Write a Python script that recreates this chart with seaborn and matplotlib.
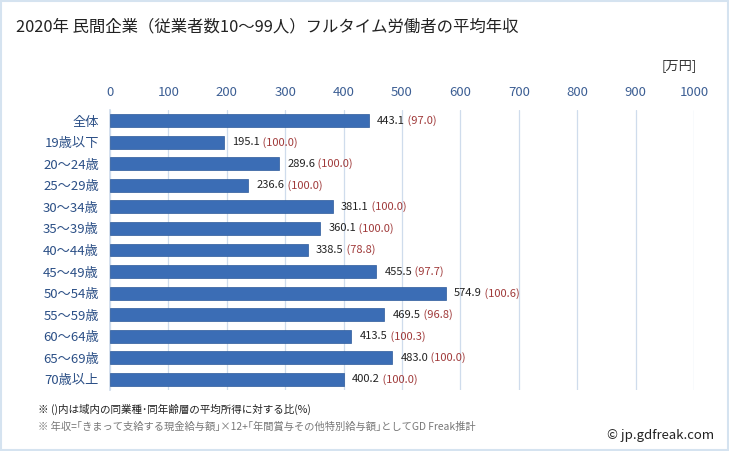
import matplotlib
matplotlib.use("Agg")
import matplotlib.pyplot as plt
import seaborn as sns
import pandas as pd
from matplotlib.patches import Rectangle

categories = ["全体", "19歳以下", "20〜24歳", "25〜29歳", "30〜34歳", "35〜39歳", "40〜44歳",
              "45〜49歳", "50〜54歳", "55〜59歳", "60〜64歳", "65〜69歳", "70歳以上"]
values = [443.1, 195.1, 289.6, 236.6, 381.1, 360.1, 338.5, 455.5, 574.9, 469.5, 413.5, 483.0, 400.2]
ratios = [97.0, 100.0, 100.0, 100.0, 100.0, 100.0, 78.8, 97.7, 100.6, 96.8, 100.3, 100.0, 100.0]
x_ticks = [0, 100, 200, 300, 400, 500, 600, 700, 800, 900, 1000]

sns.set_theme(style="white")
plt.rcParams['font.family'] = ['Noto Sans CJK JP', 'DejaVu Sans']

df = pd.DataFrame({"cat": categories, "val": values})

fig = plt.figure(figsize=(7.29, 4.51), dpi=100)
ax = fig.add_axes([110/729, 1-390/451, 584/729, 280/451])

sns.barplot(data=df, y="cat", x="val", orient="h", color="#3b6db5", width=0.6,
            saturation=1, ax=ax, edgecolor="#2d5a9a", linewidth=0.5, zorder=3)

ax.set_xlim(0, 1000)
ax.set_xticks(x_ticks)
ax.xaxis.tick_top()
ax.tick_params(axis="x", length=0, labelsize=9.5, labelcolor="#3d5f94", pad=8)
ax.tick_params(axis="y", length=0, labelsize=9.5, labelcolor="#2b4f86", pad=8)
ax.set_xlabel("")
ax.set_ylabel("")
ax.grid(axis="x", color="#cfdcec", linewidth=0.9, zorder=0)
ax.grid(axis="y", visible=False)
for s in ax.spines.values():
    s.set_visible(False)
ax.spines["left"].set_visible(True)
ax.spines["left"].set_color("#cfdcec")

for i, (v, r) in enumerate(zip(values, ratios)):
    t = ax.annotate(f"{v:.1f}", xy=(v, i), xytext=(6, 0), textcoords="offset points",
                    va="center", ha="left", fontsize=8, color="#222222")
    ax.annotate(f" ({r:.1f})", xycoords=t, xy=(1, 0.5), va="center", ha="left",
                fontsize=8, color="#a03a3a")

fig.text(16/729, 1-27/451, "2020年 民間企業（従業者数10〜99人）フルタイム労働者の平均年収",
         fontsize=11.8, color="#222222", va="center", ha="left")
fig.text(697/729, 1-66/451, "[万円]", fontsize=9.5, color="#333333", va="center", ha="right")
fig.text(38/729, 1-409/451, "※ ()内は域内の同業種･同年齢層の平均所得に対する比(%)",
         fontsize=7.6, color="#222222", va="center", ha="left")
fig.text(38/729, 1-427/451, "※ 年収=｢きまって支給する現金給与額｣×12+｢年間賞与その他特別給与額｣としてGD Freak推計",
         fontsize=7.4, color="#777777", va="center", ha="left")
fig.text(714/729, 1-436/451, "© jp.gdfreak.com", fontsize=9.5, color="#222222",
         va="center", ha="right")

fig.patches.append(Rectangle((0.002, 0.003), 0.996, 0.994, transform=fig.transFigure,
                             fill=False, edgecolor="#d5e3f0", linewidth=1.5))

fig.savefig("out.png", dpi=100)
